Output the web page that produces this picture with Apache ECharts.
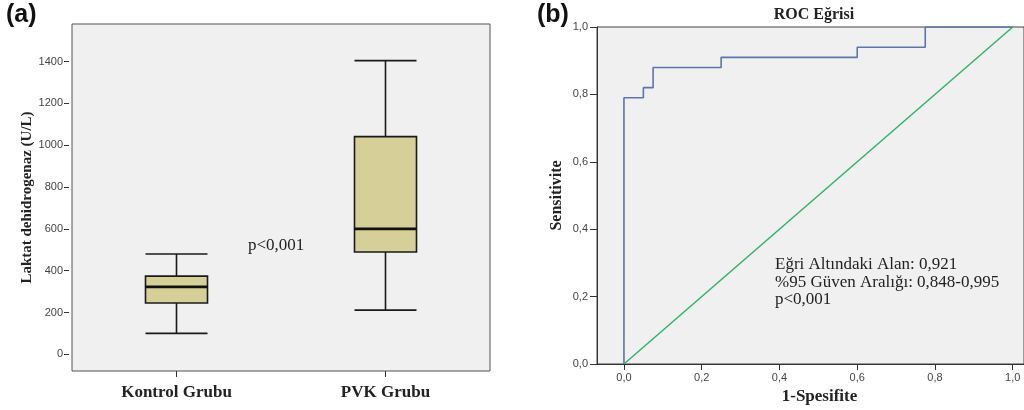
<!DOCTYPE html>
<html>
<head>
<meta charset="utf-8">
<script src="https://cdn.jsdelivr.net/npm/echarts@6/dist/echarts.min.js"></script>
<style>
  html, body { margin: 0; padding: 0; background: #fff; }
  #chart { width: 1024px; height: 410px; }
</style>
</head>
<body>
<div id="chart"></div>
<script>
// (a) kutu grafiği verileri: [min, Q1, medyan, Q3, max]
var groups = ['Kontrol Grubu', 'PVK Grubu'];
var kontrolBox = [100, 245, 322, 374, 480];
var pvkBox = [211, 489, 600, 1041, 1405];
var ldhTicks = [0, 200, 400, 600, 800, 1000, 1200, 1400];

// (b) ROC eğrisi noktaları
var fpr = [0, 0, 0.05, 0.075, 0.25, 0.6, 0.775, 1];
var tpr = [0, 0.79, 0.82, 0.88, 0.91, 0.94, 1, 1];
var refLine = [[0, 0], [1, 1]];
var rocTicks = [0, 0.2, 0.4, 0.6, 0.8, 1];

var serif = '"Liberation Serif", "DejaVu Serif", serif';
var sans = '"Liberation Sans", Arial, sans-serif';
var narrow = '"Liberation Sans Narrow", "Liberation Sans", sans-serif';

var comma = function (v) {
    return Number(v).toFixed(1).replace('.', ',');
};

var rocData = [];
for (var i = 0; i < fpr.length; i++) {
    rocData.push([fpr[i], tpr[i]]);
}
// medyan çizgileri kalın çizilsin
var medians = [[0, kontrolBox[2]], [1, pvkBox[2]]];

var chart = echarts.init(document.getElementById('chart'));
chart.setOption({
    animation: false,
    backgroundColor: '#fff',
    title: [{
        text: 'ROC Eğrisi',
        left: 809,
        top: 2,
        textAlign: 'center',
        textStyle: {fontFamily: serif, fontWeight: 'bold', fontSize: 16, color: '#222'}
    }],
    grid: [
        {left: 72, top: 24, width: 418, height: 347, show: true,
            backgroundColor: '#f0f0f0', borderColor: '#555', borderWidth: 1},
        {left: 597, top: 27, width: 428, height: 342, show: true,
            backgroundColor: '#f0f0f0', borderColor: '#444', borderWidth: 1}
    ],
    xAxis: [
        {
            gridIndex: 0,
            type: 'category',
            data: groups,
            axisLine: {show: false, onZero: false},
            axisTick: {show: true, alignWithLabel: true, length: 6, lineStyle: {color: '#333'}},
            axisLabel: {margin: 13, fontFamily: serif, fontWeight: 'bold', fontSize: 17, color: '#222'},
            splitLine: {show: false}
        },
        {
            gridIndex: 1,
            type: 'value',
            min: -0.0693,
            max: 1.029,
            axisLine: {show: true, onZero: false, lineStyle: {color: '#333'}},
            axisTick: {show: true, length: 6, customValues: rocTicks, lineStyle: {color: '#333'}},
            axisLabel: {customValues: rocTicks, formatter: comma, margin: 8,
                fontFamily: sans, fontSize: 11, color: '#444'},
            splitLine: {show: false},
            name: '1-Spesifite',
            nameLocation: 'middle',
            nameGap: 24,
            nameTextStyle: {fontFamily: serif, fontWeight: 'bold', fontSize: 17, color: '#222',
                padding: [0, 0, 0, 18]}
        }
    ],
    yAxis: [
        {
            gridIndex: 0,
            type: 'value',
            min: -80,
            max: 1580,
            offset: 3,
            axisLine: {show: false, onZero: false},
            axisTick: {show: true, length: 5, customValues: ldhTicks, lineStyle: {color: '#333'}},
            axisLabel: {customValues: ldhTicks, formatter: function (v) { return String(v); },
                margin: 6, fontFamily: sans, fontSize: 11, color: '#444'},
            splitLine: {show: false},
            name: 'Laktat dehidrogenaz (U/L)',
            nameLocation: 'middle',
            nameGap: 34,
            nameTextStyle: {fontFamily: serif, fontWeight: 'bold', fontSize: 15, color: '#222'}
        },
        {
            gridIndex: 1,
            type: 'value',
            min: 0,
            max: 1,
            interval: 0.2,
            axisLine: {show: true, onZero: false, lineStyle: {color: '#333'}},
            axisTick: {show: true, length: 7, lineStyle: {color: '#333'}},
            axisLabel: {formatter: comma, margin: 9, fontFamily: sans, fontSize: 11, color: '#444'},
            splitLine: {show: false},
            name: 'Sensitivite',
            nameLocation: 'middle',
            nameGap: 32,
            nameTextStyle: {fontFamily: serif, fontWeight: 'bold', fontSize: 16, color: '#222'}
        }
    ],
    series: [
        {
            type: 'boxplot',
            xAxisIndex: 0,
            yAxisIndex: 0,
            boxWidth: [62, 62],
            itemStyle: {color: '#d7cf98', borderColor: '#1a1a1a', borderWidth: 1.6},
            data: [kontrolBox, pvkBox]
        },
        {
            type: 'custom',
            xAxisIndex: 0,
            yAxisIndex: 0,
            z: 10,
            data: medians,
            renderItem: function (params, api) {
                var p = api.coord([api.value(0), api.value(1)]);
                return {
                    type: 'line',
                    shape: {x1: p[0] - 31, y1: p[1], x2: p[0] + 31, y2: p[1]},
                    style: {stroke: '#111', lineWidth: 2.8}
                };
            }
        },
        {
            type: 'line',
            xAxisIndex: 1,
            yAxisIndex: 1,
            data: refLine,
            symbol: 'none',
            lineStyle: {color: '#2fb466', width: 1.5}
        },
        {
            type: 'line',
            xAxisIndex: 1,
            yAxisIndex: 1,
            data: rocData,
            step: 'end',
            symbol: 'none',
            lineStyle: {color: '#5a76ad', width: 1.6}
        }
    ],
    graphic: [
        {type: 'text', left: 6, top: 3,
            style: {text: '(a)', fontFamily: narrow, fontWeight: 'bold', fontSize: 25, fill: '#111'}},
        {type: 'text', left: 537, top: 3,
            style: {text: '(b)', fontFamily: narrow, fontWeight: 'bold', fontSize: 25, fill: '#111'}},
        {type: 'text', left: 248, top: 237,
            style: {text: 'p<0,001', fontFamily: serif, fontSize: 17, fill: '#222'}},
        {type: 'text', left: 775, top: 256,
            style: {text: 'Eğri Altındaki Alan: 0,921\n%95 Güven Aralığı: 0,848-0,995\np<0,001',
                fontFamily: serif, fontSize: 17, lineHeight: 17.5, fill: '#222'}}
    ]
});
</script>
</body>
</html>
